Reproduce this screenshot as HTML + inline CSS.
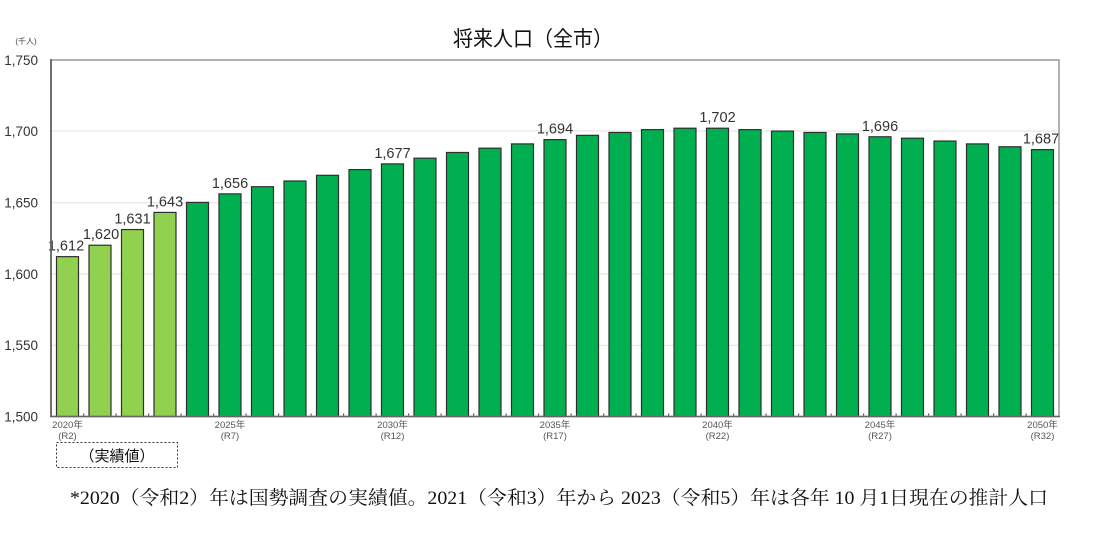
<!DOCTYPE html>
<html><head><meta charset="utf-8"><style>
html,body{margin:0;padding:0;background:#fff;}
svg{display:block;}
</style></head><body>
<svg width="1094" height="533" viewBox="0 0 1094 533" xmlns="http://www.w3.org/2000/svg">
<rect width="1094" height="533" fill="#fff"/>
<text x="453" y="46" textLength="160" lengthAdjust="spacingAndGlyphs" font-family="'Liberation Sans','Noto Sans CJK JP',sans-serif" font-size="21" fill="#111">将来人口（全市）</text>
<text x="26" y="44" text-anchor="middle" font-family="'Liberation Sans','Noto Sans CJK JP',sans-serif" font-size="8" fill="#444">(千人)</text>
<g stroke="#e2e2e2" stroke-width="1">
<line x1="51" y1="131" x2="1059" y2="131"/>
<line x1="51" y1="202.7" x2="1059" y2="202.7"/>
<line x1="51" y1="274" x2="1059" y2="274"/>
<line x1="51" y1="345.3" x2="1059" y2="345.3"/>
</g>
<g font-family="'Liberation Sans','DejaVu Sans',sans-serif" font-size="13.5" fill="#333" text-anchor="end">
<text x="38" y="65">1,750</text>
<text x="38" y="136">1,700</text>
<text x="38" y="207.5">1,650</text>
<text x="38" y="279">1,600</text>
<text x="38" y="350">1,550</text>
<text x="38" y="421.5">1,500</text>
</g>
<g stroke="#2e2e2e" stroke-width="1.2">
<g fill="#92d050">
<rect x="56.5" y="256.65" width="22" height="159.85"/>
<rect x="89" y="245.24" width="22" height="171.26"/>
<rect x="121.5" y="229.54" width="22" height="186.96"/>
<rect x="154" y="212.41" width="22" height="204.09"/>
</g>
<g fill="#00b050">
<rect x="186.5" y="202.42" width="22" height="214.08"/>
<rect x="219" y="193.86" width="22" height="222.64"/>
<rect x="251.5" y="186.72" width="22" height="229.78"/>
<rect x="284" y="181.01" width="22" height="235.49"/>
<rect x="316.5" y="175.30" width="22" height="241.20"/>
<rect x="349" y="169.59" width="22" height="246.91"/>
<rect x="381.5" y="163.89" width="22" height="252.61"/>
<rect x="414" y="158.18" width="22" height="258.32"/>
<rect x="446.5" y="152.47" width="22" height="264.03"/>
<rect x="479" y="148.19" width="22" height="268.31"/>
<rect x="511.5" y="143.90" width="22" height="272.60"/>
<rect x="544" y="139.62" width="22" height="276.88"/>
<rect x="576.5" y="135.34" width="22" height="281.16"/>
<rect x="609" y="132.49" width="22" height="284.01"/>
<rect x="641.5" y="129.63" width="22" height="286.87"/>
<rect x="674" y="128.21" width="22" height="288.29"/>
<rect x="706.5" y="128.21" width="22" height="288.29"/>
<rect x="739" y="129.63" width="22" height="286.87"/>
<rect x="771.5" y="131.06" width="22" height="285.44"/>
<rect x="804" y="132.49" width="22" height="284.01"/>
<rect x="836.5" y="133.91" width="22" height="282.59"/>
<rect x="869" y="136.77" width="22" height="279.73"/>
<rect x="901.5" y="138.20" width="22" height="278.30"/>
<rect x="934" y="141.05" width="22" height="275.45"/>
<rect x="966.5" y="143.90" width="22" height="272.60"/>
<rect x="999" y="146.76" width="22" height="269.74"/>
<rect x="1031.5" y="149.61" width="22" height="266.89"/>
</g>
</g>
<g fill="#555">
<rect x="83" y="413.5" width="1.2" height="2"/><rect x="115.5" y="413.5" width="1.2" height="2"/><rect x="148" y="413.5" width="1.2" height="2"/><rect x="180.5" y="413.5" width="1.2" height="2"/><rect x="213" y="413.5" width="1.2" height="2"/><rect x="245.5" y="413.5" width="1.2" height="2"/><rect x="278" y="413.5" width="1.2" height="2"/><rect x="310.5" y="413.5" width="1.2" height="2"/><rect x="343" y="413.5" width="1.2" height="2"/><rect x="375.5" y="413.5" width="1.2" height="2"/><rect x="408" y="413.5" width="1.2" height="2"/><rect x="440.5" y="413.5" width="1.2" height="2"/><rect x="473" y="413.5" width="1.2" height="2"/><rect x="505.5" y="413.5" width="1.2" height="2"/><rect x="538" y="413.5" width="1.2" height="2"/><rect x="570.5" y="413.5" width="1.2" height="2"/><rect x="603" y="413.5" width="1.2" height="2"/><rect x="635.5" y="413.5" width="1.2" height="2"/><rect x="668" y="413.5" width="1.2" height="2"/><rect x="700.5" y="413.5" width="1.2" height="2"/><rect x="733" y="413.5" width="1.2" height="2"/><rect x="765.5" y="413.5" width="1.2" height="2"/><rect x="798" y="413.5" width="1.2" height="2"/><rect x="830.5" y="413.5" width="1.2" height="2"/><rect x="863" y="413.5" width="1.2" height="2"/><rect x="895.5" y="413.5" width="1.2" height="2"/><rect x="928" y="413.5" width="1.2" height="2"/><rect x="960.5" y="413.5" width="1.2" height="2"/><rect x="993" y="413.5" width="1.2" height="2"/><rect x="1025.5" y="413.5" width="1.2" height="2"/>
</g>
<g font-family="'Liberation Sans','DejaVu Sans',sans-serif" font-size="14.5" fill="#333" text-anchor="middle">
<text x="66" y="250.6">1,612</text>
<text x="101" y="239.2">1,620</text>
<text x="132.5" y="223.5">1,631</text>
<text x="165" y="206.4">1,643</text>
<text x="230" y="187.9">1,656</text>
<text x="392.5" y="157.9">1,677</text>
<text x="555" y="133.6">1,694</text>
<text x="717.5" y="122.2">1,702</text>
<text x="880" y="130.8">1,696</text>
<text x="1041" y="143.6">1,687</text>
</g>
<rect x="51" y="60" width="1008" height="356.5" fill="none" stroke="#999" stroke-width="1.5"/>
<line x1="51" y1="59" x2="51" y2="417" stroke="#666" stroke-width="1.8"/>
<line x1="50" y1="416.5" x2="1060" y2="416.5" stroke="#666" stroke-width="1.5"/>
<g font-family="'Liberation Sans','Noto Sans CJK JP',sans-serif" font-size="9.5" fill="#555" text-anchor="middle">
<text x="67.5" y="428">2020年</text><text x="67.5" y="439">(R2)</text>
<text x="230" y="428">2025年</text><text x="230" y="439">(R7)</text>
<text x="392.5" y="428">2030年</text><text x="392.5" y="439">(R12)</text>
<text x="555" y="428">2035年</text><text x="555" y="439">(R17)</text>
<text x="717.5" y="428">2040年</text><text x="717.5" y="439">(R22)</text>
<text x="880" y="428">2045年</text><text x="880" y="439">(R27)</text>
<text x="1042.5" y="428">2050年</text><text x="1042.5" y="439">(R32)</text>
</g>
<rect x="56.5" y="442.5" width="121" height="25" fill="none" stroke="#333" stroke-width="1" stroke-dasharray="2,2"/>
<text x="117" y="461" text-anchor="middle" font-family="'Liberation Sans','Noto Sans CJK JP',sans-serif" font-size="15" fill="#111">（実績値）</text>
<text x="70" y="504" textLength="978" lengthAdjust="spacingAndGlyphs" font-family="'Liberation Serif','Noto Serif CJK SC',serif" font-size="19" fill="#111">*2020（令和2）年は国勢調査の実績値。2021（令和3）年から 2023（令和5）年は各年 10 月1日現在の推計人口</text>
</svg>
</body></html>
